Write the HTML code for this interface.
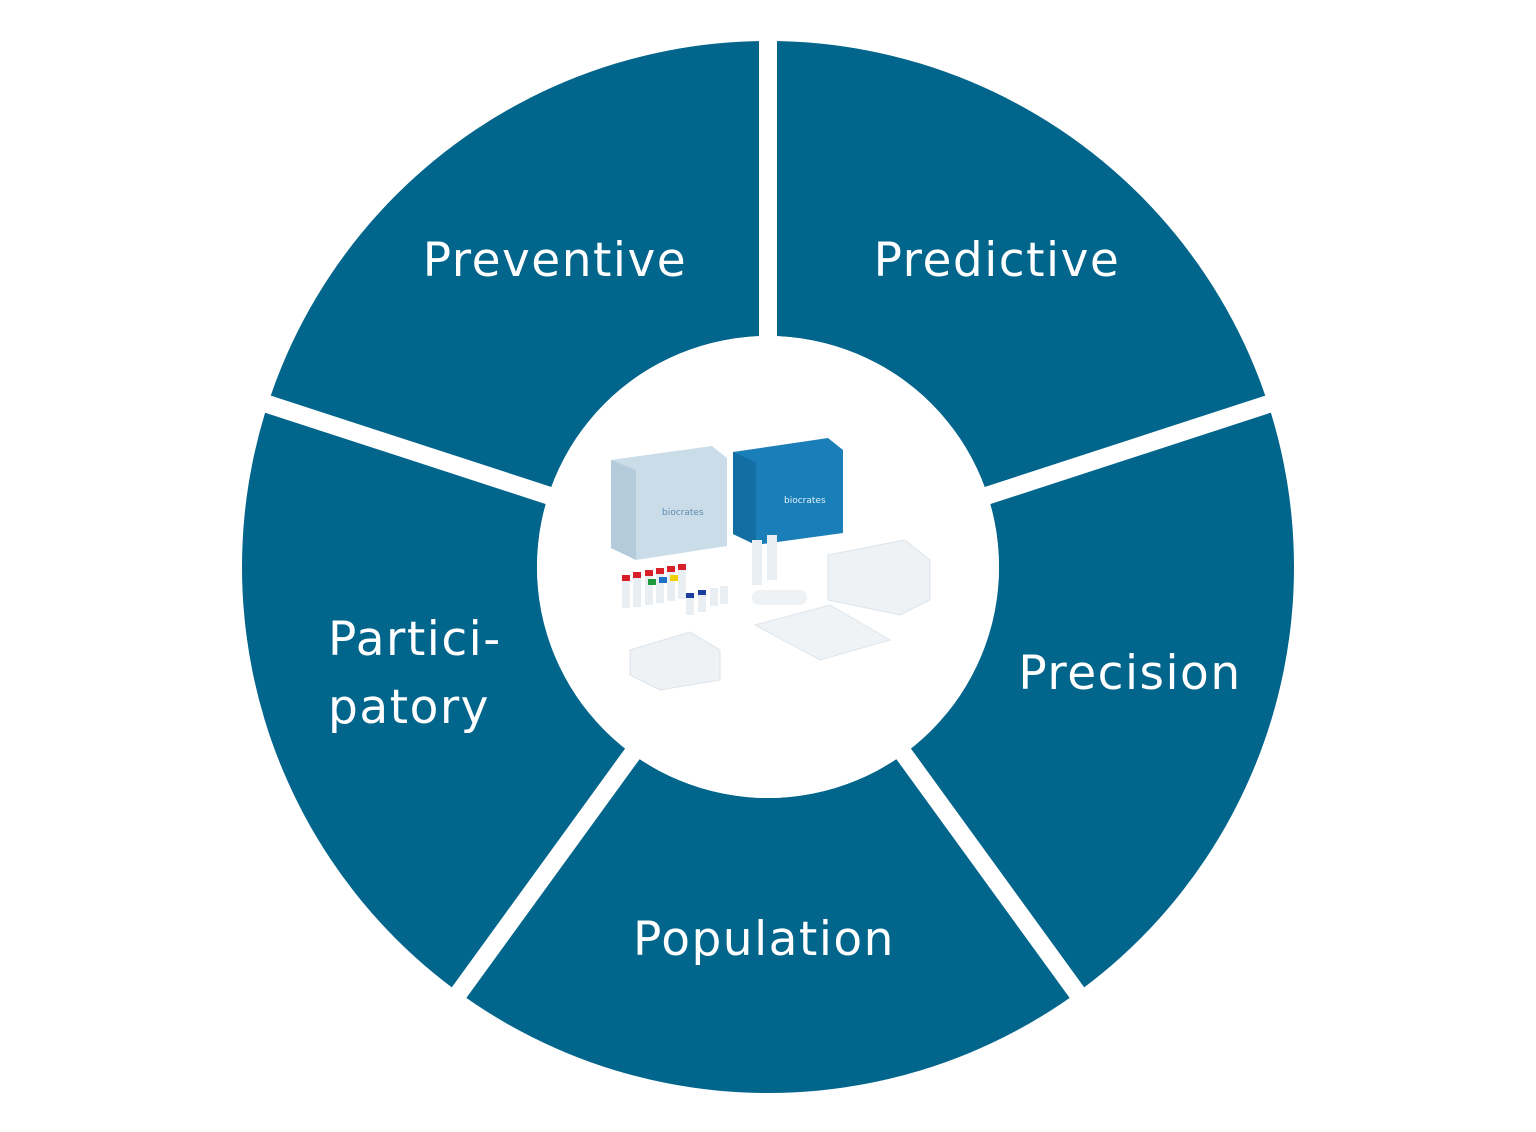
<!DOCTYPE html>
<html><head><meta charset="utf-8"><style>
html,body{margin:0;padding:0;background:#fff;}
svg{display:block;}
text{font-family:"DejaVu Sans","Liberation Sans",sans-serif;fill:#fff;font-size:47px;letter-spacing:1.5px;}
</style></head><body>
<svg width="1536" height="1132" viewBox="0 0 1536 1132">
<circle cx="768" cy="567" r="526" fill="#02658b"/>
<circle cx="768" cy="567" r="231" fill="#fff"/>
<g stroke="#fff" stroke-width="18">
<line x1="768" y1="567" x2="768" y2="20"/>
<line x1="768" y1="567" x2="1290" y2="397"/>
<line x1="768" y1="567" x2="1091" y2="1012"/>
<line x1="768" y1="567" x2="445" y2="1012"/>
<line x1="768" y1="567" x2="246" y2="397"/>
</g>
<circle cx="768" cy="567" r="231" fill="#fff"/>
<text x="555" y="276" text-anchor="middle">Preventive</text>
<text x="997" y="276" text-anchor="middle">Predictive</text>
<text x="1130" y="689" text-anchor="middle">Precision</text>
<text x="764" y="955" text-anchor="middle">Population</text>
<text x="328" y="655">Partici-</text>
<text x="328" y="723">patory</text>
<polygon points="611,460 712,446 727,458 727,546 636,560 611,548" fill="#c9dce8"/>
<polygon points="611,460 636,470 636,560 611,548" fill="#b3cbdb"/>
<polygon points="733,452 828,438 843,450 843,533 756,545 733,534" fill="#1a7fb8"/>
<polygon points="733,452 756,462 756,545 733,534" fill="#136ea3"/>
<text x="662" y="515" style="font-size:9px;fill:#5f8db0;letter-spacing:0">biocrates</text>
<text x="784" y="503" style="font-size:9px;fill:#e0f0fa;letter-spacing:0">biocrates</text>
<g fill="#e8eef2">
<rect x="622" y="578" width="8" height="30"/><rect x="633" y="575" width="8" height="32"/>
<rect x="645" y="572" width="8" height="33"/><rect x="656" y="570" width="8" height="33"/>
<rect x="667" y="568" width="8" height="33"/><rect x="678" y="566" width="8" height="33"/>
<rect x="686" y="595" width="8" height="20"/><rect x="698" y="592" width="8" height="20"/>
<rect x="710" y="588" width="8" height="18"/><rect x="720" y="586" width="8" height="18"/>
<rect x="752" y="540" width="10" height="45"/><rect x="767" y="535" width="10" height="45"/>
</g>
<g>
<rect x="622" y="575" width="8" height="6" fill="#d8202a"/><rect x="633" y="572" width="8" height="6" fill="#d8202a"/>
<rect x="645" y="570" width="8" height="6" fill="#d8202a"/><rect x="656" y="568" width="8" height="6" fill="#d8202a"/>
<rect x="667" y="566" width="8" height="6" fill="#d8202a"/><rect x="678" y="564" width="8" height="6" fill="#d8202a"/>
<rect x="648" y="579" width="8" height="6" fill="#1e9a3a"/><rect x="659" y="577" width="8" height="6" fill="#1f6fc5"/>
<rect x="670" y="575" width="8" height="6" fill="#f0d000"/>
<rect x="686" y="593" width="8" height="5" fill="#1b3fa0"/><rect x="698" y="590" width="8" height="5" fill="#1b3fa0"/>
</g>
<polygon points="828,555 905,540 930,560 930,600 900,615 828,600" fill="#eef2f5" stroke="#dde3e8"/>
<polygon points="755,625 830,605 890,640 820,660" fill="#f0f3f6" stroke="#dfe5ea"/>
<rect x="752" y="590" width="55" height="15" rx="7" fill="#eef2f5"/>
<polygon points="630,650 690,632 720,650 720,680 660,690 630,675" fill="#eef2f5" stroke="#dde3e8"/>
</svg>
</body></html>
